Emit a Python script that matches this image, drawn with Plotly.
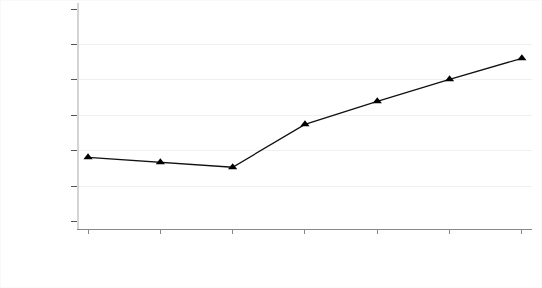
import plotly.graph_objects as go

categories = [0, 1, 2, 3, 4, 5, 6]
values = [1.82, 1.68, 1.54, 2.75, 3.40, 4.02, 4.61]
y_ticks = [0, 1, 2, 3, 4, 5, 6]
grid_ticks = [1, 2, 3, 4, 5]

Y_RANGE = [-0.2, 6.17]

fig = go.Figure()
fig.add_trace(go.Scatter(
    x=categories, y=values, mode="lines+markers",
    line=dict(color="#111111", width=1.3),
    marker=dict(symbol="triangle-up", size=8, color="#000000"),
    showlegend=False,
))

fig.update_layout(
    width=542, height=288,
    margin=dict(l=79, r=10, t=3, b=59),
    paper_bgcolor="white", plot_bgcolor="white",
    xaxis=dict(
        range=[-0.125, 6.14], tickvals=categories, showticklabels=False,
        ticks="outside", ticklen=4, tickcolor="#888888", tickwidth=1,
        showgrid=False, zeroline=False,
        showline=True, linecolor="#888888", linewidth=1,
    ),
    yaxis=dict(
        range=Y_RANGE, tickvals=y_ticks, showticklabels=False,
        ticks="outside", ticklen=6, tickcolor="#555555", tickwidth=1,
        showgrid=False, zeroline=False,
        showline=True, linecolor="#d4d4d4", linewidth=2,
    ),
    yaxis2=dict(
        range=Y_RANGE, tickvals=grid_ticks, showticklabels=False,
        overlaying="y", side="left", ticks="",
        showgrid=True, gridcolor="#eef1f4", gridwidth=1, zeroline=False,
        showline=False, layer="below traces",
    ),
    shapes=[dict(type="rect", xref="paper", yref="paper",
                 x0=-79/453, x1=1+10/453, y0=-59/226, y1=1+3/226,
                 line=dict(color="#f2f4f7", width=1), layer="below")],
)
# invisible trace to activate the grid axis
fig.add_trace(go.Scatter(x=[None], y=[None], yaxis="y2", showlegend=False, hoverinfo="skip"))

fig.write_html("out.html")
